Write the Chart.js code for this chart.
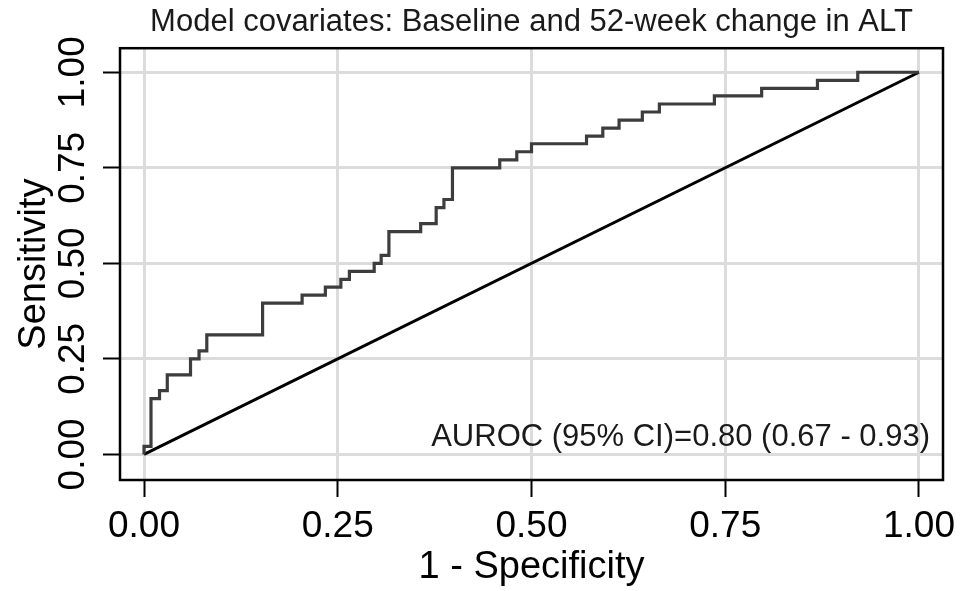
<!DOCTYPE html>
<html>
<head>
<meta charset="utf-8">
<title>ROC curve</title>
<script src="https://cdn.jsdelivr.net/npm/chart.js@4.4.1/dist/chart.umd.min.js"></script>
<style>
  html, body { margin: 0; padding: 0; background: #fff; }
  #wrap { width: 961px; height: 591px; position: relative; }
</style>
</head>
<body>
<div id="wrap"><canvas id="rocChart"></canvas></div>
<script>
// --- data ---
const xTicks = [0, 0.25, 0.5, 0.75, 1];
const yTicks = [0, 0.25, 0.5, 0.75, 1];

// 1 - specificity / sensitivity at each corner of the step curve
const fpr = [0, 0, 0.009, 0.020, 0.030, 0.060, 0.071, 0.081, 0.153, 0.204, 0.234, 0.254,
             0.265, 0.297, 0.306, 0.316, 0.357, 0.377, 0.387, 0.398, 0.459, 0.481, 0.500,
             0.571, 0.592, 0.613, 0.643, 0.665, 0.736, 0.797, 0.869, 0.921, 1.0];
const tpr = [0, 0.021, 0.146, 0.167, 0.208, 0.250, 0.271, 0.313, 0.396, 0.417, 0.438, 0.458,
             0.479, 0.500, 0.521, 0.583, 0.604, 0.646, 0.667, 0.750, 0.771, 0.792, 0.813,
             0.833, 0.854, 0.875, 0.896, 0.917, 0.938, 0.958, 0.979, 1.0, 1.0];

const refX = [0, 1];
const refY = [0, 1];

const titleText = 'Model covariates: Baseline and 52-week change in ALT';
const aurocText = 'AUROC (95% CI)=0.80 (0.67 - 0.93)';

Chart.defaults.font.family = "'Liberation Sans', Arial, sans-serif";
Chart.defaults.color = '#000';

// frame round the plot + AUROC note
const framePlugin = {
    id: 'frame',
    afterDraw(chart) {
        const { ctx, chartArea: a, scales } = chart;
        ctx.save();
        ctx.strokeStyle = '#000';
        ctx.lineWidth = 2.5;
        ctx.strokeRect(a.left, a.top, a.right - a.left, a.bottom - a.top);

        ctx.font = "31px 'Liberation Sans', Arial, sans-serif";
        ctx.fillStyle = '#1a1a1a';
        ctx.textAlign = 'right';
        ctx.textBaseline = 'middle';
        ctx.fillText(aurocText, scales.x.getPixelForValue(1) + 11, scales.y.getPixelForValue(0.045));
        ctx.restore();
    }
};

const setTicks = vals => scale => { scale.ticks = vals.map(v => ({ value: v })); };

new Chart(document.getElementById('rocChart').getContext('2d'), {
    type: 'scatter',
    data: {
        datasets: [
            {
                label: 'ROC',
                data: fpr.map((x, i) => ({ x: x, y: tpr[i] })),
                showLine: true,
                stepped: 'before',
                borderColor: '#3d3d3d',
                borderWidth: 3.2,
                pointRadius: 0,
                fill: false
            },
            {
                label: 'Reference',
                data: refX.map((x, i) => ({ x: x, y: refY[i] })),
                showLine: true,
                borderColor: '#000',
                borderWidth: 3,
                pointRadius: 0,
                fill: false
            }
        ]
    },
    options: {
        responsive: true,
        maintainAspectRatio: false,
        animation: false,
        layout: { padding: { right: 18, top: 0, bottom: 0, left: 0 } },
        plugins: {
            legend: { display: false },
            tooltip: { enabled: false },
            title: {
                display: true,
                text: titleText,
                fullSize: false,
                color: '#1a1a1a',
                font: { size: 31, weight: 'normal' },
                padding: { top: 4, bottom: 7 }
            }
        },
        scales: {
            x: {
                type: 'linear',
                min: -0.031,
                max: 1.031,
                afterBuildTicks: setTicks(xTicks),
                afterFit: scale => {
                    scale.height = 111;
                    scale.paddingLeft = 0;
                    scale.paddingRight = 0;
                },
                grid: {
                    color: '#dcdcdc',
                    lineWidth: 3,
                    drawTicks: true,
                    tickLength: 17,
                    tickColor: '#000',
                    tickWidth: 2
                },
                border: { display: false },
                ticks: {
                    autoSkip: false,
                    maxRotation: 0,
                    padding: 8,
                    font: { size: 37 },
                    callback: v => v.toFixed(2)
                },
                title: {
                    display: true,
                    text: '1 - Specificity',
                    font: { size: 38 },
                    padding: { top: 0, bottom: 1 }
                }
            },
            y: {
                type: 'linear',
                min: -0.067,
                max: 1.063,
                afterBuildTicks: setTicks(yTicks),
                afterFit: scale => {
                    scale.width = 120;
                    scale.paddingTop = 0;
                    scale.paddingBottom = 0;
                },
                grid: {
                    color: '#dcdcdc',
                    lineWidth: 3,
                    drawTicks: true,
                    tickLength: 17,
                    tickColor: '#000',
                    tickWidth: 2
                },
                border: { display: false },
                ticks: {
                    autoSkip: false,
                    minRotation: 90,
                    maxRotation: 90,
                    crossAlign: 'center',
                    padding: -7,
                    font: { size: 37 },
                    callback: v => v.toFixed(2)
                },
                title: {
                    display: true,
                    text: 'Sensitivity',
                    font: { size: 38 },
                    padding: { top: 12, bottom: 0 }
                }
            }
        }
    },
    plugins: [framePlugin]
});
</script>
</body>
</html>
